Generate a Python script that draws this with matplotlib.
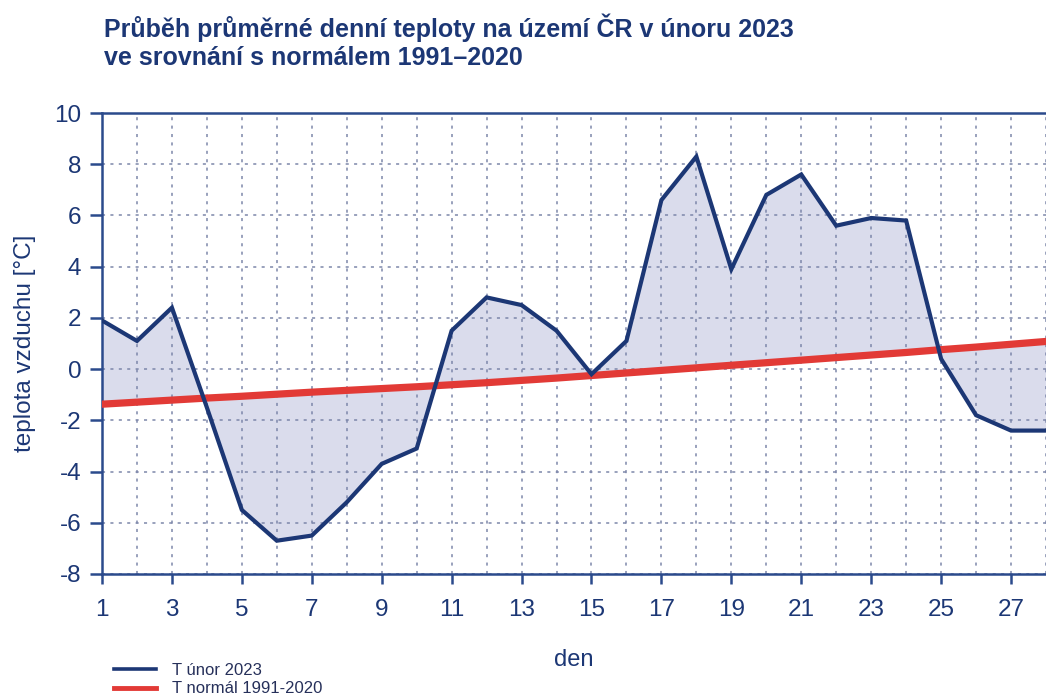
import matplotlib
matplotlib.use("Agg")
import matplotlib.pyplot as plt
import numpy as np

# ---- data ----
days = list(range(1, 29))
t_feb_2023 = [1.9, 1.1, 2.4, -1.5, -5.5, -6.7, -6.5, -5.2, -3.7, -3.1,
              1.5, 2.8, 2.5, 1.5, -0.2, 1.1, 6.6, 8.3, 3.9, 6.8,
              7.6, 5.6, 5.9, 5.8, 0.4, -1.8, -2.4, -2.4]
t_normal = [-1.37, -1.29, -1.21, -1.13, -1.06, -0.98, -0.90, -0.83, -0.76, -0.69,
            -0.61, -0.53, -0.44, -0.35, -0.25, -0.15, -0.05, 0.05, 0.15, 0.25,
            0.35, 0.45, 0.55, 0.65, 0.76, 0.86, 0.97, 1.08]
x_ticks = [1, 3, 5, 7, 9, 11, 13, 15, 17, 19, 21, 23, 25, 27]
y_ticks = [-8, -6, -4, -2, 0, 2, 4, 6, 8, 10]
title = "Průběh průměrné denní teploty na území ČR v únoru 2023\nve srovnání s normálem 1991–2020"
label_series = "T únor 2023"
label_normal = "T normál 1991-2020"

NAVY = "#1c3775"
AXIS = "#2b4a8c"
RED = "#e23a36"
FILL = "#dadcec"
GRID = "#7d87aa"

plt.rcParams['font.family'] = ['Liberation Sans', 'DejaVu Sans']
plt.rcParams['axes.unicode_minus'] = False

fig = plt.figure(figsize=(10.46, 6.98), dpi=100)
ax = fig.add_axes([102/1046, 1 - 574/698, 1 - 102/1046, (574 - 113)/698])

x = np.array(days, dtype=float)
y1 = np.array(t_feb_2023)
y2 = np.array(t_normal)
ax.fill_between(x, y1, y2, color=FILL, lw=0, zorder=1)
ax.plot(x, y1, color=NAVY, lw=3.0, zorder=4, solid_joinstyle='miter', label=label_series)
ax.plot(x, y2, color=RED, lw=5.2, zorder=3, label=label_normal)

ax.set_xlim(1, 27.69)
ax.set_ylim(-8, 10)

ax.set_xticks(x_ticks)
ax.set_xticks(days, minor=True)
ax.set_yticks(y_ticks)
ax.tick_params(axis='x', which='major', direction='out', length=7, width=1.8,
               color=AXIS, labelsize=17.5, labelcolor=NAVY, pad=11)
ax.tick_params(axis='x', which='minor', length=0)
ax.tick_params(axis='y', direction='out', length=9, width=1.8,
               color=AXIS, labelsize=17.5, labelcolor=NAVY, pad=6)

ax.grid(True, which='both', axis='x', color=GRID, lw=1.1, linestyle=(0, (2, 3.5)), zorder=0)
ax.grid(True, which='major', axis='y', color=GRID, lw=1.1, linestyle=(0, (2, 3.5)), zorder=0)

for s in ['left', 'bottom', 'top']:
    ax.spines[s].set_color(AXIS)
    ax.spines[s].set_linewidth(1.8)
ax.spines['right'].set_visible(False)

ax.set_xlabel("den", fontsize=17, color=NAVY, labelpad=20)
ax.set_ylabel("teplota vzduchu [°C]", fontsize=17.5, color=NAVY, labelpad=13)

fig.text(104/1046, 1 - 14/698, title, fontsize=18, fontweight='bold', color=NAVY,
         va='top', ha='left', linespacing=1.2)

handles, labels = ax.get_legend_handles_labels()
leg = fig.legend(handles, labels, loc='upper left', bbox_to_anchor=(114/1046, 1 - 663/698),
                 frameon=False, fontsize=12, handlelength=2.5, labelspacing=0.2,
                 borderpad=0, handletextpad=1.0, borderaxespad=0)
for t in leg.get_texts():
    t.set_color("#26305a")
leg.get_lines()[0].set_linewidth(2.6)
leg.get_lines()[1].set_linewidth(3.5)

fig.savefig("out.png", dpi=100)
